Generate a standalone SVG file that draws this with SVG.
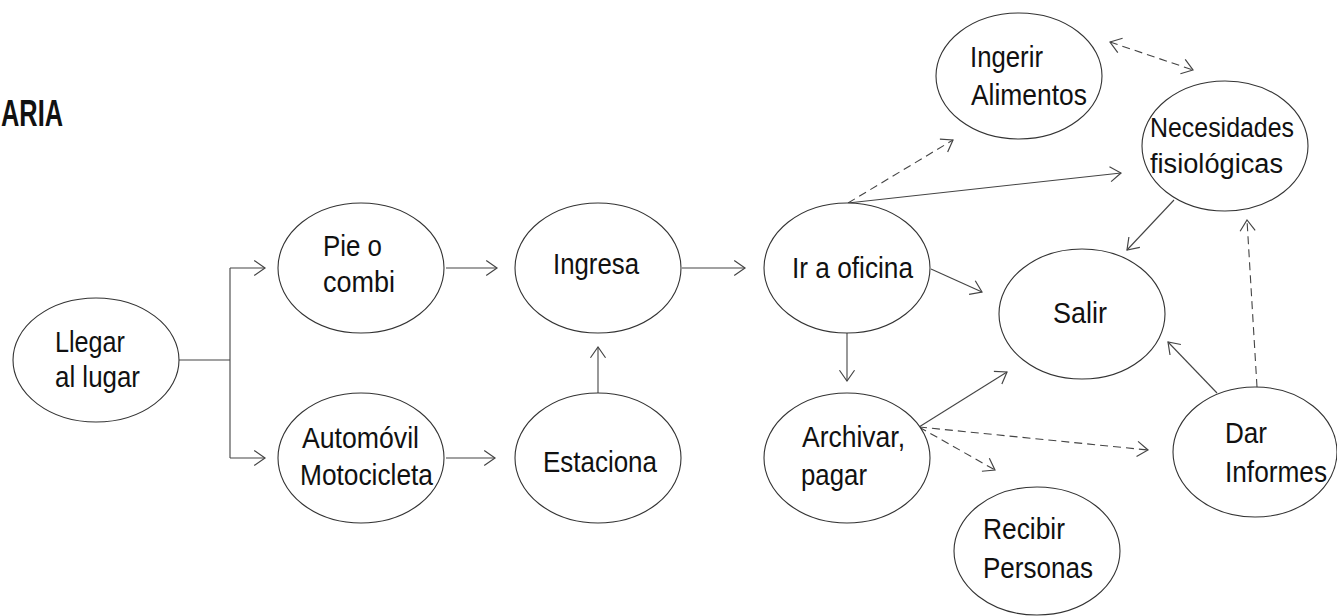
<svg xmlns="http://www.w3.org/2000/svg" width="1337" height="616" viewBox="0 0 1337 616">
<style>
.n ellipse{fill:#fff;stroke:#333;stroke-width:1.1}
.n text{font-family:"Liberation Sans",Arial,sans-serif;font-size:29px;fill:#111}
.c path{fill:none;stroke:#444;stroke-width:1.1}
.c .d{stroke-dasharray:8 5}
.t{font-family:"Liberation Sans",Arial,sans-serif;font-weight:bold;font-size:37px;fill:#111}
</style>
<defs>
<marker id="a" markerUnits="userSpaceOnUse" markerWidth="14" markerHeight="18" viewBox="-11 -8 13 16" refX="0" refY="0" orient="auto-start-reverse">
<path d="M-10,-7 L0,0 L-10,7" fill="none" stroke="#444" stroke-width="1.1"/>
</marker>
</defs>
<text class="t" x="1" y="126" textLength="62" lengthAdjust="spacingAndGlyphs">ARIA</text>
<g class="c" id="connectors">
<path d="M179,360 H230 M230,268 V458"/>
<path d="M230,268 H265" marker-end="url(#a)"/>
<path d="M230,458 H265" marker-end="url(#a)"/>
<path d="M446,268 H497" marker-end="url(#a)"/>
<path d="M446,458 H495" marker-end="url(#a)"/>
<path d="M682,268 H745" marker-end="url(#a)"/>
<path d="M598,393 V347" marker-end="url(#a)"/>
<path d="M847,333 V381" marker-end="url(#a)"/>
<path class="d" d="M848,203 L953,140" marker-end="url(#a)"/>
<path d="M848,203 L1121,173" marker-end="url(#a)"/>
<path d="M931,269 L982,292" marker-end="url(#a)"/>
<path class="d" d="M1110,42 L1193,70" marker-start="url(#a)" marker-end="url(#a)"/>
<path d="M1174,200 L1127,250" marker-end="url(#a)"/>
<path d="M919,427 L1007,372" marker-end="url(#a)"/>
<path class="d" d="M919,427 L1148,450" marker-end="url(#a)"/>
<path class="d" d="M919,427 L995,470" marker-end="url(#a)"/>
<path d="M1217,393 L1168,342" marker-end="url(#a)"/>
<path class="d" d="M1257,387 L1247,220" marker-end="url(#a)"/>
</g>
<g class="n" id="llegar"><ellipse cx="96" cy="360" rx="83" ry="62"/><text x="55" y="352" textLength="70" lengthAdjust="spacingAndGlyphs">Llegar</text><text x="55" y="387" textLength="85" lengthAdjust="spacingAndGlyphs">al lugar</text></g>
<g class="n" id="pie"><ellipse cx="361" cy="268" rx="83" ry="65"/><text x="323" y="256" textLength="59" lengthAdjust="spacingAndGlyphs">Pie o</text><text x="323" y="292" textLength="72" lengthAdjust="spacingAndGlyphs">combi</text></g>
<g class="n" id="automovil"><ellipse cx="361" cy="458" rx="83" ry="65"/><text x="302" y="448" textLength="117" lengthAdjust="spacingAndGlyphs">Automóvil</text><text x="300" y="485" textLength="133" lengthAdjust="spacingAndGlyphs">Motocicleta</text></g>
<g class="n" id="ingresa"><ellipse cx="598" cy="268" rx="83" ry="65"/><text x="553" y="274" textLength="86" lengthAdjust="spacingAndGlyphs">Ingresa</text></g>
<g class="n" id="estaciona"><ellipse cx="598" cy="458" rx="83" ry="65"/><text x="543" y="472" textLength="114" lengthAdjust="spacingAndGlyphs">Estaciona</text></g>
<g class="n" id="oficina"><ellipse cx="847" cy="268" rx="83" ry="65"/><text x="792" y="278" textLength="121" lengthAdjust="spacingAndGlyphs">Ir a oficina</text></g>
<g class="n" id="archivar"><ellipse cx="847" cy="458" rx="83" ry="65"/><text x="802" y="447" textLength="103" lengthAdjust="spacingAndGlyphs">Archivar,</text><text x="801" y="485" textLength="66" lengthAdjust="spacingAndGlyphs">pagar</text></g>
<g class="n" id="ingerir"><ellipse cx="1019" cy="76" rx="83" ry="63"/><text x="970" y="67" textLength="73" lengthAdjust="spacingAndGlyphs">Ingerir</text><text x="971" y="105" textLength="116" lengthAdjust="spacingAndGlyphs">Alimentos</text></g>
<g class="n" id="necesidades"><ellipse cx="1225" cy="146" rx="83" ry="65"/><text x="1150" y="137" textLength="144" lengthAdjust="spacingAndGlyphs" style="font-size:27px">Necesidades</text><text x="1150" y="173" textLength="133" lengthAdjust="spacingAndGlyphs" style="font-size:27px">fisiológicas</text></g>
<g class="n" id="salir"><ellipse cx="1082" cy="314" rx="83" ry="65"/><text x="1053" y="323" textLength="54" lengthAdjust="spacingAndGlyphs">Salir</text></g>
<g class="n" id="dar"><ellipse cx="1255" cy="452" rx="82" ry="65"/><text x="1225" y="443" textLength="42" lengthAdjust="spacingAndGlyphs">Dar</text><text x="1225" y="482" textLength="102" lengthAdjust="spacingAndGlyphs">Informes</text></g>
<g class="n" id="recibir"><ellipse cx="1037" cy="551" rx="83" ry="64"/><text x="983" y="539" textLength="82" lengthAdjust="spacingAndGlyphs">Recibir</text><text x="983" y="578" textLength="110" lengthAdjust="spacingAndGlyphs">Personas</text></g>
</svg>
